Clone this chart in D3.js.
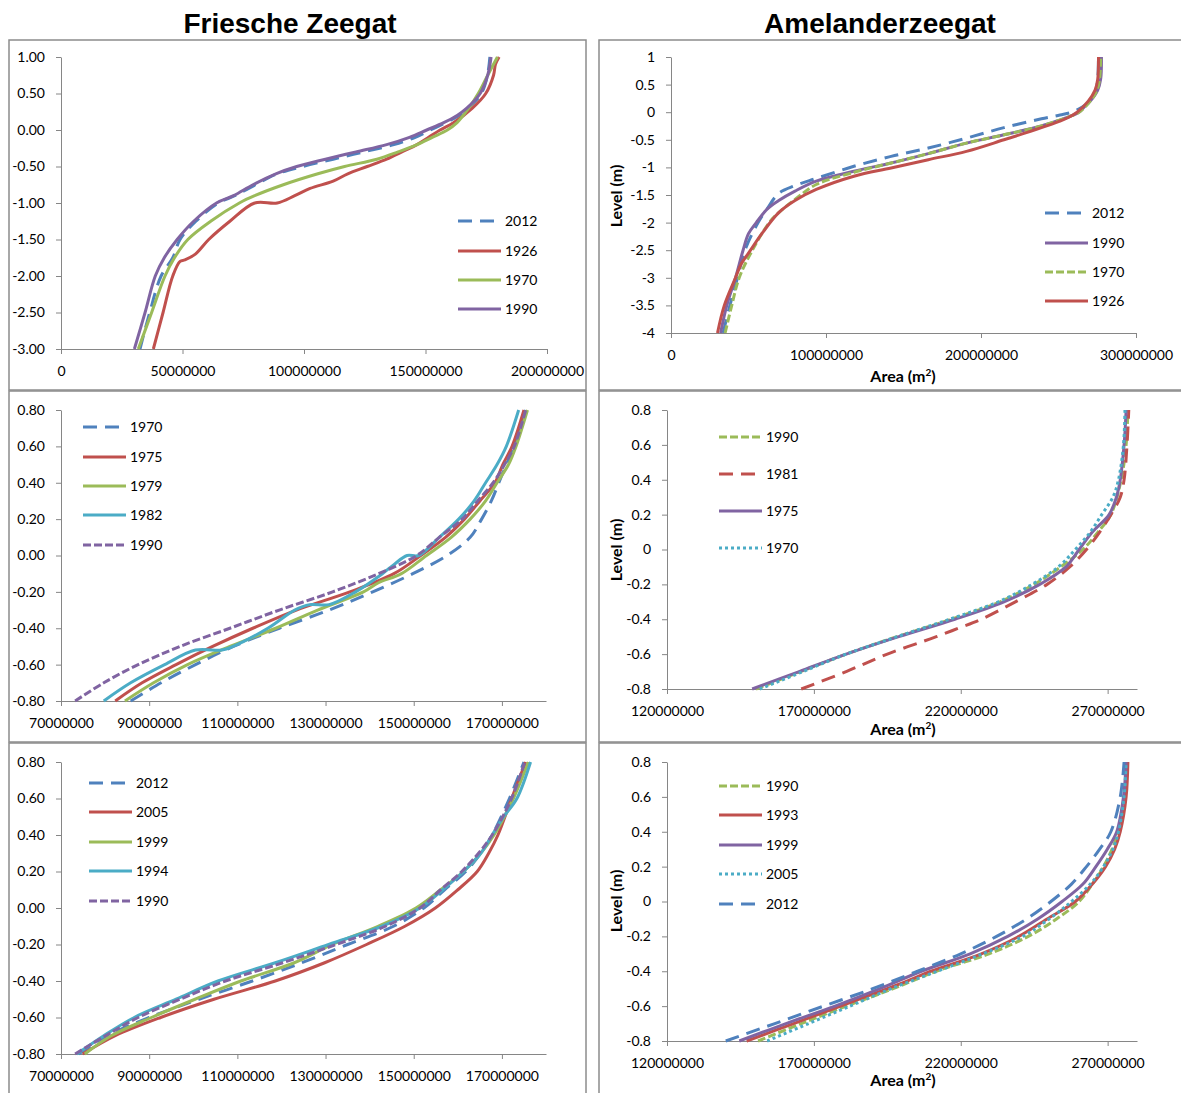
<!DOCTYPE html>
<html>
<head>
<meta charset="utf-8">
<script src="https://cdn.jsdelivr.net/npm/d3@7"></script>
<style>
  body { margin: 0; background: #fff; }
  text { font-family: Lato, "Liberation Sans", sans-serif; }
</style>
</head>
<body>
<div class="chart"></div>
<script>

// Hypsometric curves: [area (million m2), level (m)]

// Friesche Zeegat, top
var fz1_2012 = [[32.5,-3],[36.5,-2.5],[41.2,-2],[46,-1.75],[49,-1.5],[55.5,-1.25],[64.8,-1],[71.5,-0.9],[80,-0.75],[89,-0.6],[99.4,-0.5],[112,-0.4],[124.5,-0.3],[137,-0.2],[145.8,-0.1],[152,0],[158.3,0.1],[163.8,0.2],[167.5,0.3],[173,0.5],[175.5,0.75],[176.5,1]];
var fz1_1926 = [[38,-3],[42,-2.5],[46,-2],[49,-1.8],[51,-1.78],[55.3,-1.7],[60.8,-1.5],[69.5,-1.25],[79.7,-1],[89,-1],[96.2,-0.9],[102.5,-0.8],[112,-0.7],[118,-0.6],[126,-0.5],[134,-0.4],[140.3,-0.3],[146.5,-0.2],[151.3,-0.1],[156,0],[161.5,0.1],[169.3,0.3],[174.8,0.5],[178,0.75],[178.8,0.9],[180.3,1]];
var fz1_1970 = [[31.8,-3],[37.3,-2.5],[42.8,-2],[46.7,-1.75],[52.2,-1.5],[61.6,-1.25],[73.4,-1],[79.7,-0.9],[91.5,-0.75],[105.7,-0.6],[116.7,-0.5],[130,-0.4],[138.7,-0.3],[146.5,-0.2],[152.8,-0.1],[159,0],[163,0.1],[167.8,0.3],[171.7,0.5],[175.6,0.75],[179.6,1]];
var fz1_1990 = [[30.2,-3],[34.6,-2.5],[38.8,-2],[42.5,-1.75],[47.8,-1.5],[54.6,-1.25],[64,-1],[71,-0.9],[79,-0.75],[88.4,-0.6],[97,-0.5],[108.8,-0.4],[121.4,-0.3],[134,-0.2],[143.4,-0.1],[150.5,0],[157.5,0.1],[163,0.2],[167,0.3],[172.5,0.5],[175.6,0.75],[177,1]];

// Amelanderzeegat, top
var am1_2012 = [[33.6,-4],[38,-3.5],[42.9,-3],[47.7,-2.5],[56.2,-2],[62,-1.75],[69.5,-1.47],[80,-1.33],[93.7,-1.2],[118,-0.98],[142,-0.8],[166,-0.65],[190.6,-0.47],[214.8,-0.28],[239,-0.12],[251,-0.05],[258.4,0],[265.6,0.1],[270.5,0.2],[274,0.4],[275.3,0.6],[275.8,1]];
var am1_1990 = [[32,-4],[36,-3.5],[41.6,-3],[46.5,-2.5],[50,-2.2],[55,-2],[62.2,-1.75],[69.5,-1.6],[80,-1.43],[93.7,-1.25],[118,-1.07],[142,-0.92],[166,-0.75],[190.6,-0.56],[214.8,-0.41],[239,-0.25],[250,-0.15],[257,-0.08],[263.2,0],[266.8,0.1],[270.5,0.2],[275.3,0.4],[277.2,0.6],[277.7,1]];
var am1_1970 = [[34.9,-4],[39.2,-3.5],[44,-3],[52.5,-2.5],[63.4,-2],[69.5,-1.82],[80,-1.58],[93.7,-1.31],[118,-1.09],[142,-0.92],[166,-0.75],[190.6,-0.56],[214.8,-0.41],[239,-0.25],[250,-0.15],[257,-0.08],[263.2,0],[270.5,0.2],[274.8,0.4],[276.5,0.6],[277.2,1]];
var am1_1926 = [[30,-4],[34.4,-3.5],[41.6,-3],[45.3,-2.75],[51.3,-2.5],[58.6,-2.2],[69.5,-1.82],[80,-1.6],[93.7,-1.4],[118,-1.16],[142,-1.01],[166,-0.86],[190.6,-0.71],[214.8,-0.5],[239,-0.28],[250,-0.17],[256,-0.1],[262,0],[269.2,0.2],[273.6,0.4],[275.3,0.6],[275.8,1]];

// Friesche Zeegat, middle
var fz2_1970 = [[85.8,-0.8],[92.7,-0.7],[100.5,-0.6],[109.1,-0.5],[119.5,-0.4],[130.8,-0.3],[140.7,-0.2],[149.8,-0.1],[157.6,0],[162.8,0.1],[165.4,0.2],[167.6,0.3],[169.3,0.4],[171,0.5],[172.8,0.6],[175.4,0.8]];
var fz2_1975 = [[82.3,-0.8],[88.4,-0.7],[96.1,-0.6],[104.4,-0.5],[113.5,-0.4],[123.4,-0.3],[135.5,-0.2],[145.5,-0.1],[151.6,0],[157.2,0.1],[161.5,0.2],[165,0.3],[168.4,0.4],[170.2,0.5],[172.3,0.6],[175,0.8]];
var fz2_1979 = [[84.5,-0.8],[91,-0.7],[98.7,-0.6],[108.3,-0.5],[118.7,-0.4],[128.2,-0.3],[138.6,-0.2],[142,-0.15],[147.2,-0.1],[152.9,0],[158.5,0.1],[162.8,0.2],[166.3,0.3],[168.9,0.4],[171.5,0.5],[173.2,0.6],[175.8,0.8]];
var fz2_1982 = [[79.7,-0.8],[85.8,-0.7],[93.5,-0.6],[100.5,-0.52],[106.5,-0.52],[109,-0.5],[116.9,-0.4],[123,-0.3],[126.4,-0.27],[130.8,-0.27],[136.8,-0.2],[142.9,-0.1],[145.5,-0.05],[148.5,0],[151.1,0],[155.8,0.1],[160.2,0.2],[163.7,0.3],[166.3,0.4],[168.9,0.5],[171,0.6],[173.8,0.8]];
var fz2_1990 = [[73.2,-0.8],[79.7,-0.7],[87.5,-0.6],[97,-0.5],[108.3,-0.4],[119.5,-0.3],[131.6,-0.2],[142,-0.1],[150.7,0],[155.8,0.1],[161,0.2],[164.5,0.3],[168,0.4],[170.6,0.5],[172.8,0.6],[175.4,0.8]];

// Amelanderzeegat, middle
var am2_1990 = [[150.3,-0.8],[165.5,-0.7],[181,-0.6],[198.3,-0.5],[216.8,-0.4],[233.4,-0.3],[245,-0.2],[254,-0.1],[261.6,0],[266.7,0.1],[271.1,0.2],[274.6,0.4],[276.3,0.6],[276.9,0.8]];
var am2_1981 = [[165.7,-0.8],[181,-0.7],[195,-0.6],[211.7,-0.5],[219.4,-0.45],[227,-0.4],[238.6,-0.3],[249.4,-0.2],[257.1,-0.1],[262.8,0],[267.3,0.1],[271.1,0.2],[274.3,0.3],[275.6,0.4],[276.6,0.6],[277.2,0.8]];
var am2_1975 = [[149,-0.8],[165,-0.7],[181,-0.6],[198.9,-0.5],[218,-0.4],[234.7,-0.3],[246.9,-0.2],[255.8,-0.1],[260.3,0],[264.8,0.1],[270.5,0.2],[273,0.3],[274.3,0.4],[275.6,0.6],[276.3,0.8]];
var am2_1970 = [[151.6,-0.8],[166.3,-0.7],[181,-0.6],[198.3,-0.5],[216.2,-0.4],[232.8,-0.3],[244.3,-0.2],[253.2,-0.1],[259,0],[264.1,0.1],[268,0.2],[271.8,0.3],[273.7,0.4],[275.4,0.6],[275.9,0.8]];

// Friesche Zeegat, bottom
var fz3_2012 = [[74,-0.8],[80.5,-0.7],[90,-0.6],[101.3,-0.5],[113.4,-0.4],[124.6,-0.3],[135,-0.2],[145.4,-0.1],[152.3,0],[157,0.1],[161.8,0.2],[165.2,0.3],[167.8,0.4],[171.7,0.6],[175,0.8]];
var fz3_2005 = [[74.9,-0.8],[82.3,-0.7],[92.6,-0.6],[104.7,-0.5],[118.6,-0.4],[129.8,-0.3],[139.3,-0.2],[148,-0.1],[154.9,0],[160,0.1],[164.4,0.2],[167,0.3],[169.1,0.4],[172.2,0.6],[175.4,0.8]];
var fz3_1999 = [[75.4,-0.8],[81.4,-0.7],[90.5,-0.6],[100.4,-0.5],[110.8,-0.4],[122.9,-0.3],[131.5,-0.2],[141.9,-0.1],[150.5,0],[156.1,0.1],[161.3,0.2],[165.2,0.3],[168.2,0.4],[172.6,0.6],[176,0.8]];
var fz3_1994 = [[73.6,-0.8],[79.7,-0.7],[86.6,-0.6],[96.1,-0.5],[105.6,-0.4],[118.6,-0.3],[130.7,-0.2],[142.8,-0.1],[151.4,0],[156.6,0.1],[161.3,0.2],[165.2,0.3],[167.8,0.4],[170.4,0.5],[173.4,0.6],[176.5,0.8]];
var fz3_1990 = [[73.2,-0.8],[80.1,-0.7],[87.5,-0.6],[97,-0.5],[107.3,-0.4],[120.3,-0.3],[132.4,-0.2],[143.6,-0.1],[151.4,0],[156.1,0.1],[160.9,0.2],[164.7,0.3],[167.8,0.4],[172.2,0.6],[175.2,0.8]];

// Amelanderzeegat, bottom
var am3_1990 = [[151,-0.8],[165.7,-0.7],[181,-0.6],[197,-0.5],[211.7,-0.4],[229.6,-0.3],[243,-0.2],[252.6,-0.1],[260.3,0],[264.8,0.1],[268.6,0.2],[273.7,0.4],[275.6,0.6],[276.5,0.8]];
var am3_1993 = [[147.1,-0.8],[163.1,-0.7],[179.1,-0.6],[195,-0.5],[202.7,-0.45],[209.8,-0.4],[227,-0.3],[239.8,-0.2],[249.4,-0.1],[259,0],[264.8,0.1],[269.3,0.2],[272.4,0.3],[274.3,0.4],[276.3,0.6],[276.9,0.8]];
var am3_1999 = [[144.6,-0.8],[160.5,-0.7],[177.2,-0.6],[192.5,-0.5],[206.6,-0.4],[223.2,-0.3],[236,-0.2],[246.2,-0.1],[254.5,0],[261.6,0.1],[266,0.2],[269.9,0.3],[273.1,0.4],[275.4,0.6],[276.3,0.8]];
var am3_2005 = [[154.1,-0.8],[168.2,-0.7],[182.3,-0.6],[196.3,-0.5],[212,-0.4],[227.5,-0.3],[241.1,-0.2],[250.1,-0.1],[257.7,0],[264.1,0.1],[268.6,0.2],[271.8,0.3],[273.7,0.4],[275.6,0.6],[276.3,0.8]];
var am3_2012 = [[140,-0.8],[156.7,-0.7],[173.3,-0.6],[190,-0.5],[205.3,-0.4],[220,-0.3],[232.2,-0.2],[242.4,-0.1],[250.7,0],[257.7,0.1],[262.8,0.2],[267.3,0.3],[271.1,0.4],[274.3,0.6],[275.6,0.8]];

// Axis ticks
var fzTopXTicks = [0, 50, 100, 150, 200];
var amTopXTicks = [0, 100, 200, 300];
var fzXTicks = [70, 90, 110, 130, 150, 170];
var amXTicks = [120, 170, 220, 270];
var fzTopYTicks = [-3, -2.5, -2, -1.5, -1, -0.5, 0, 0.5, 1];
var amTopYTicks = [-4, -3.5, -3, -2.5, -2, -1.5, -1, -0.5, 0, 0.5, 1];
var lowYTicks = [-0.8, -0.6, -0.4, -0.2, 0, 0.2, 0.4, 0.6, 0.8];

// Excel 2007 palette and line styles
var blue = "#4F81BD", red = "#C0504D", green = "#9BBB59", purple = "#8064A2", cyan = "#4BACC6";
var longDash = "14,8", shortDash = "8,3", dotted = "3,3";

var svgWidth = 1181;
var svgHeight = 1093;

var svg = d3.select(".chart")
  .append("svg")
  .attr("width", svgWidth)
  .attr("height", svgHeight);

// panel frames
var frames = [[9, 40, 577, 350], [599, 40, 600, 350], [9, 391, 577, 351], [599, 391, 600, 351], [9, 743, 577, 360], [599, 743, 600, 360]];
svg.selectAll("rect.frame")
  .data(frames)
  .enter()
  .append("rect")
  .attr("class", "frame")
  .attr("x", d => d[0])
  .attr("y", d => d[1])
  .attr("width", d => d[2])
  .attr("height", d => d[3])
  .attr("fill", "none")
  .attr("stroke", "#8c8c8c")
  .attr("stroke-width", 1.5);

// column titles
svg.append("text")
  .attr("x", 290).attr("y", 33)
  .attr("text-anchor", "middle")
  .style("font-family", "'Liberation Sans', Arial, sans-serif")
  .style("font-weight", "bold")
  .style("font-size", "28px")
  .text("Friesche Zeegat");

svg.append("text")
  .attr("x", 880).attr("y", 33)
  .attr("text-anchor", "middle")
  .style("font-family", "'Liberation Sans', Arial, sans-serif")
  .style("font-weight", "bold")
  .style("font-size", "28px")
  .text("Amelanderzeegat");

var hyphen = s => s.replace("\u2212", "-");
var fmt2 = v => hyphen(d3.format(".2f")(v));
var fmtShort = v => hyphen(String(+v.toFixed(1)));
var fmtArea = v => String(Math.round(v * 1e6));

var panels = [
  { x0: 61, x1: 547, y0: 57, y1: 349, xDom: [0, 200], yDom: [-3, 1], xTicks: fzTopXTicks, yTicks: fzTopYTicks, yFmt: fmt2,
    series: [
      { name: "2012", data: fz1_2012, color: blue, dash: longDash },
      { name: "1926", data: fz1_1926, color: red, dash: null },
      { name: "1970", data: fz1_1970, color: green, dash: null },
      { name: "1990", data: fz1_1990, color: purple, dash: null }],
    legend: { x: 458, y: [221, 251, 280, 309] } },
  { x0: 671, x1: 1136, y0: 57, y1: 333, xDom: [0, 300], yDom: [-4, 1], xTicks: amTopXTicks, yTicks: amTopYTicks, yFmt: fmtShort,
    series: [
      { name: "2012", data: am1_2012, color: blue, dash: longDash },
      { name: "1990", data: am1_1990, color: purple, dash: null },
      { name: "1970", data: am1_1970, color: green, dash: shortDash },
      { name: "1926", data: am1_1926, color: red, dash: null }],
    legend: { x: 1045, y: [213, 243, 272, 301] },
    yLabel: 196, xLabel: 382 },
  { x0: 61, x1: 546, y0: 410, y1: 701, xDom: [70, 180], yDom: [-0.8, 0.8], xTicks: fzXTicks, yTicks: lowYTicks, yFmt: fmt2,
    series: [
      { name: "1970", data: fz2_1970, color: blue, dash: longDash },
      { name: "1975", data: fz2_1975, color: red, dash: null },
      { name: "1979", data: fz2_1979, color: green, dash: null },
      { name: "1982", data: fz2_1982, color: cyan, dash: null },
      { name: "1990", data: fz2_1990, color: purple, dash: shortDash }],
    legend: { x: 83, y: [427, 457, 486, 515, 545] } },
  { x0: 667, x1: 1137, y0: 410, y1: 689, xDom: [120, 280], yDom: [-0.8, 0.8], xTicks: amXTicks, yTicks: lowYTicks, yFmt: fmtShort,
    series: [
      { name: "1990", data: am2_1990, color: green, dash: shortDash },
      { name: "1981", data: am2_1981, color: red, dash: longDash },
      { name: "1975", data: am2_1975, color: purple, dash: null },
      { name: "1970", data: am2_1970, color: cyan, dash: dotted }],
    legend: { x: 719, y: [437, 474, 511, 548] },
    yLabel: 550, xLabel: 735 },
  { x0: 61, x1: 546, y0: 762, y1: 1054, xDom: [70, 180], yDom: [-0.8, 0.8], xTicks: fzXTicks, yTicks: lowYTicks, yFmt: fmt2,
    series: [
      { name: "2012", data: fz3_2012, color: blue, dash: longDash },
      { name: "2005", data: fz3_2005, color: red, dash: null },
      { name: "1999", data: fz3_1999, color: green, dash: null },
      { name: "1994", data: fz3_1994, color: cyan, dash: null },
      { name: "1990", data: fz3_1990, color: purple, dash: shortDash }],
    legend: { x: 89, y: [783, 812, 842, 871, 901] } },
  { x0: 667, x1: 1137, y0: 762, y1: 1041, xDom: [120, 280], yDom: [-0.8, 0.8], xTicks: amXTicks, yTicks: lowYTicks, yFmt: fmtShort,
    series: [
      { name: "1990", data: am3_1990, color: green, dash: shortDash },
      { name: "1993", data: am3_1993, color: red, dash: null },
      { name: "1999", data: am3_1999, color: purple, dash: null },
      { name: "2005", data: am3_2005, color: cyan, dash: dotted },
      { name: "2012", data: am3_2012, color: blue, dash: longDash }],
    legend: { x: 719, y: [786, 815, 845, 874, 904] },
    yLabel: 901, xLabel: 1086 }
];

panels.forEach(function(p) {
  var x = d3.scaleLinear().domain(p.xDom).range([p.x0, p.x1]);
  var y = d3.scaleLinear().domain(p.yDom).range([p.y1, p.y0]);

  var g = svg.append("g");

  // axes
  var xAxis = g.append("g")
    .attr("transform", `translate(0, ${p.y1})`)
    .call(d3.axisBottom(x).tickValues(p.xTicks).tickFormat(fmtArea)
      .tickSize(5).tickSizeOuter(0).tickPadding(12));

  var yAxis = g.append("g")
    .attr("transform", `translate(${p.x0}, 0)`)
    .call(d3.axisLeft(y).tickValues(p.yTicks).tickFormat(p.yFmt)
      .tickSize(5).tickSizeOuter(0).tickPadding(11));

  g.selectAll(".domain, .tick line").attr("stroke", "#868686");
  g.selectAll(".tick text")
    .attr("fill", "#000")
    .style("font-family", "Lato, 'Liberation Sans', sans-serif")
    .style("font-size", "14px");

  // curves
  var line = d3.line()
    .x(d => x(d[0]))
    .y(d => y(d[1]))
    .curve(d3.curveCatmullRom.alpha(0.5));

  g.selectAll("path.curve")
    .data(p.series)
    .enter()
    .append("path")
    .attr("class", "curve")
    .attr("d", d => line(d.data))
    .attr("fill", "none")
    .attr("stroke", d => d.color)
    .attr("stroke-width", 3)
    .attr("stroke-dasharray", d => d.dash);

  // legend
  var leg = g.selectAll("g.leg")
    .data(p.series)
    .enter()
    .append("g")
    .attr("class", "leg")
    .attr("transform", (d, i) => `translate(${p.legend.x}, ${p.legend.y[i]})`);

  leg.append("line")
    .attr("x1", 0).attr("x2", 43)
    .attr("y1", 0).attr("y2", 0)
    .attr("stroke", d => d.color)
    .attr("stroke-width", 3)
    .attr("stroke-dasharray", d => d.dash);

  leg.append("text")
    .attr("x", 47)
    .attr("y", 5)
    .style("font-size", "14px")
    .text(d => d.name);

  // axis titles on the Amelanderzeegat panels
  if (p.yLabel) {
    g.append("text")
      .attr("transform", `translate(622, ${p.yLabel}) rotate(-90)`)
      .attr("text-anchor", "middle")
      .style("font-weight", "bold")
      .style("font-size", "16px")
      .text("Level (m)");

    var xl = g.append("text")
      .attr("x", 903)
      .attr("y", p.xLabel)
      .attr("text-anchor", "middle")
      .style("font-weight", "bold")
      .style("font-size", "16px");
    xl.append("tspan").text("Area (m");
    xl.append("tspan").attr("dy", -6).style("font-size", "10px").text("2");
    xl.append("tspan").attr("dy", 6).text(")");
  }
});

</script>
</body>
</html>
